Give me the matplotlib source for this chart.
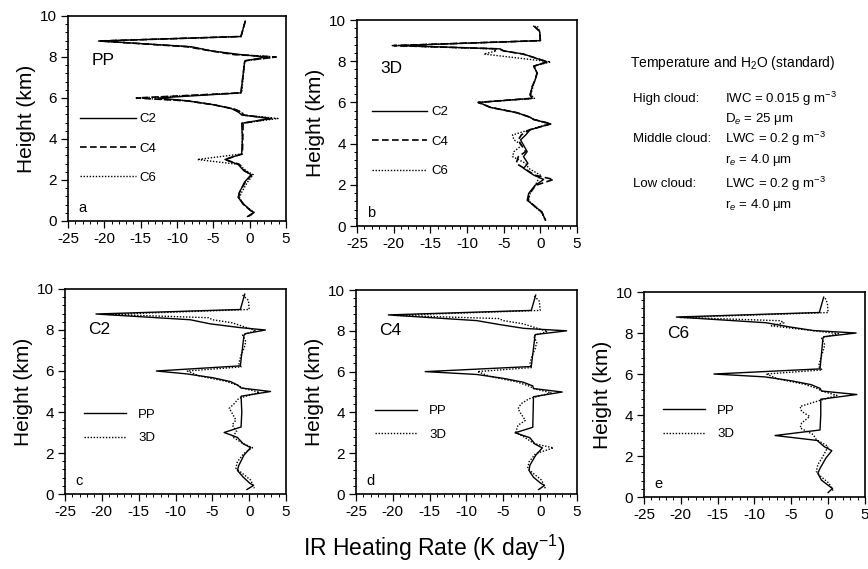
import matplotlib
matplotlib.use("Agg")
import matplotlib.pyplot as plt
from matplotlib.ticker import MultipleLocator

plt.rcParams['font.family'] = ['Liberation Sans', 'DejaVu Sans']
plt.rcParams['mathtext.fontset'] = 'custom'
plt.rcParams['mathtext.rm'] = 'Liberation Sans'
plt.rcParams['mathtext.it'] = 'Liberation Sans:italic'
plt.rcParams['axes.unicode_minus'] = False

# plane-parallel (PP) heating rate profiles, K/day
h_pp = [9.75, 9.0, 8.78, 8.5, 8.3, 8.12, 8.0, 7.82, 7.75, 6.25, 6.0, 5.86, 5.67, 5.48,
        5.3, 5.17, 5.0, 4.77, 4.0, 3.27, 3.0, 2.76, 2.45, 2.26, 1.9, 1.4, 1.15, 0.82,
        0.52, 0.42, 0.22]
pp_c2 = [-0.6, -1.2, -20.8, -8.0, -5.3, -1.3, 2.2, -0.5, -0.7, -1.2, -12.6, -8.5, -4.9, -2.5,
         -1.5, -1.1, 2.9, -1.1, -1.0, -1.1, -3.4, -1.6, -0.8, 0.2, -0.7, -1.4, -1.6, -0.8,
         0.1, 0.6, -0.3]
pp_c4 = [-0.6, -1.2, -20.6, -8.6, -5.4, -2.2, 3.6, -0.6, -0.7, -1.2, -15.6, -8.6, -5.0, -2.3,
         -1.0, -0.9, 3.0, -0.9, -0.95, -1.0, -3.4, -1.4, -0.7, 0.3, -0.6, -1.4, -1.5, -0.9,
         0.1, 0.6, -0.2]
pp_c6 = [-0.6, -1.2, -20.6, -8.4, -5.3, -2.0, 3.8, -0.6, -0.7, -1.1, -15.5, -8.6, -5.0, -2.3,
         -1.1, -0.9, 3.9, -1.0, -1.0, -1.1, -7.2, -1.5, -0.5, 0.5, -0.3, -1.1, -1.4, -0.9,
         0.2, 0.6, 0.0]

# 3D heating rate profiles
h_3d = [9.7, 9.45, 9.0, 8.76, 8.6, 8.5, 8.35, 7.97, 7.76, 7.43, 7.1, 6.78, 6.37, 6.2, 6.0,
        5.76, 5.5, 5.28, 5.17, 4.96, 4.67, 4.42, 4.18, 3.93, 3.61, 3.37, 3.04, 2.8, 2.47,
        2.26, 1.98, 1.58, 1.25, 1.0, 0.68, 0.28]
d3_c2 = [-0.9, -0.1, 0.0, -19.3, -5.5, -5.0, -2.3, 0.9, -0.9, -0.45, -0.7, -1.1, -1.4, -1.1, -8.4,
         -6.8, -3.2, -1.4, -0.9, 1.4, -1.4, -2.0, -2.7, -2.3, -1.8, -2.3, -1.7, -2.3, -0.9,
         0.45, -0.7, -1.6, -1.8, -0.9, 0.2, 0.7]
d3_c4 = [-0.8, -0.1, 0.0, -20.0, -5.6, -5.0, -2.4, 1.0, -0.9, -0.45, -0.7, -1.1, -1.4, -1.1, -8.5,
         -6.8, -3.2, -1.4, -0.9, 1.5, -1.5, -2.6, -3.0, -2.6, -2.0, -3.0, -3.3, -2.2, -0.8,
         1.8, -0.6, -1.5, -1.7, -0.9, 0.2, 0.7]
d3_c6 = [-0.4, -0.1, 0.0, -20.2, -6.5, -6.0, -7.7, 1.4, -0.9, -0.45, -0.7, -1.0, -1.3, -0.8, -8.4,
         -6.8, -3.2, -1.4, -0.9, 1.2, -1.5, -3.8, -3.6, -2.5, -3.6, -3.8, -2.0, -1.6, 0.0,
         -0.3, -0.7, -1.4, -1.6, -1.0, 0.1, 0.7]

fig = plt.figure(figsize=(8.68, 5.69), dpi=100)


def setup(ax, letter, title, ty):
    ax.set_xlim(-25, 5)
    ax.set_ylim(0, 10)
    ax.xaxis.set_major_locator(MultipleLocator(5))
    ax.xaxis.set_minor_locator(MultipleLocator(1))
    ax.yaxis.set_major_locator(MultipleLocator(2))
    ax.yaxis.set_minor_locator(MultipleLocator(0.4))
    ax.tick_params(which='major', direction='out', length=5, width=0.9, labelsize=11,
                   top=False, right=False, pad=3)
    ax.tick_params(which='minor', direction='out', length=2.5, width=0.7, top=False, right=False)
    for s in ax.spines.values():
        s.set_linewidth(1.2)
    ax.set_ylabel("Height (km)", fontsize=15, labelpad=3)
    ax.text(-23.6, 0.65, letter, fontsize=10.5, va='center', ha='left')
    ax.text(-21.8, ty, title, fontsize=12.5, va='center', ha='left')


# a: PP for the three cases
ax = fig.add_axes([0.0783, 0.6116, 0.2512, 0.3603])
ax.plot(pp_c6, h_pp, color='k', lw=1.0, ls=(0, (1, 1.2)), label="C6")
ax.plot(pp_c4, h_pp, color='k', lw=1.2, ls=(0, (4, 2)), label="C4")
ax.plot(pp_c2, h_pp, color='k', lw=1.0, ls='-', label="C2")
setup(ax, "a", "PP", 7.85)
hd, lb = ax.get_legend_handles_labels()
ax.legend(hd[::-1], lb[::-1], loc='upper left', bbox_to_anchor=(0.02, 0.565), frameon=False,
          fontsize=9.5, handlelength=4.2, handletextpad=0.3, labelspacing=1.3, borderaxespad=0.2)

# b: 3D for the three cases
ax = fig.add_axes([0.4113, 0.6028, 0.2535, 0.3620])
ax.plot(d3_c6, h_3d, color='k', lw=1.0, ls=(0, (1, 1.2)), label="C6")
ax.plot(d3_c4, h_3d, color='k', lw=1.2, ls=(0, (4, 2)), label="C4")
ax.plot(d3_c2, h_3d, color='k', lw=1.0, ls='-', label="C2")
setup(ax, "b", "3D", 7.65)
hd, lb = ax.get_legend_handles_labels()
ax.legend(hd[::-1], lb[::-1], loc='upper left', bbox_to_anchor=(0.03, 0.62), frameon=False,
          fontsize=9.5, handlelength=4.2, handletextpad=0.3, labelspacing=1.3, borderaxespad=0.2)

# c, d, e: PP vs 3D for each case
panels = [
    ([0.0749, 0.1318, 0.2546, 0.3603], pp_c2, d3_c2, "c", "C2", 0.455),
    ([0.4101, 0.1318, 0.2546, 0.3585], pp_c4, d3_c4, "d", "C4", 0.475),
    ([0.7419, 0.1265, 0.2546, 0.3603], pp_c6, d3_c6, "e", "C6", 0.49),
]
for pos, pp, d3, letter, title, ly in panels:
    ax = fig.add_axes(pos)
    ax.plot(d3, h_3d, color='k', lw=1.0, ls=(0, (1, 1.2)), label="3D")
    ax.plot(pp, h_pp, color='k', lw=1.0, ls='-', label="PP")
    setup(ax, letter, title, 8.0)
    hd, lb = ax.get_legend_handles_labels()
    ax.legend(hd[::-1], lb[::-1], loc='upper left', bbox_to_anchor=(0.05, ly), frameon=False,
              fontsize=9.5, handlelength=3.2, handletextpad=0.9, labelspacing=0.85,
              borderaxespad=0.2)

fig.text(434 / 868, 1 - 548 / 569, "IR Heating Rate (K day$^{-1}$)", fontsize=16.5,
         ha='center', va='center')

# cloud description
fs = 9.5
fig.text(630 / 868, 1 - 63 / 569, "Temperature and H$_2$O (standard)", fontsize=10, va='center')
fig.text(633 / 868, 1 - 99 / 569, "High cloud:", fontsize=fs, va='center')
fig.text(725 / 868, 1 - 99 / 569, "IWC = 0.015 g m$^{-3}$", fontsize=fs, va='center')
fig.text(725 / 868, 1 - 119 / 569, "D$_e$ = 25 \u03bcm", fontsize=fs, va='center')
fig.text(633 / 868, 1 - 139 / 569, "Middle cloud:", fontsize=fs, va='center')
fig.text(725 / 868, 1 - 139 / 569, "LWC = 0.2 g m$^{-3}$", fontsize=fs, va='center')
fig.text(725 / 868, 1 - 160 / 569, "r$_e$ = 4.0 \u03bcm", fontsize=fs, va='center')
fig.text(633 / 868, 1 - 184 / 569, "Low cloud:", fontsize=fs, va='center')
fig.text(725 / 868, 1 - 184 / 569, "LWC = 0.2 g m$^{-3}$", fontsize=fs, va='center')
fig.text(725 / 868, 1 - 205 / 569, "r$_e$ = 4.0 \u03bcm", fontsize=fs, va='center')

fig.savefig("out.png", dpi=100)
